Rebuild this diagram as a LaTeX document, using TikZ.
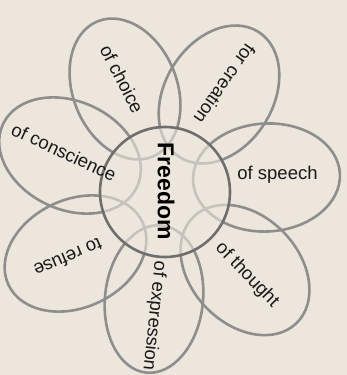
\documentclass[tikz,border=0pt]{standalone}
\usepackage{fontspec}
\setmainfont{Liberation Sans}
\definecolor{bgc}{HTML}{ECE6DC}
\definecolor{petalc}{HTML}{8E8E8E}
\definecolor{ringc}{HTML}{6E6E6E}
\begin{document}
\begin{tikzpicture}[x=1pt,y=-1pt,
  petal/.style={draw=petalc,line width=2.6pt},
  lbl/.style={font=\fontsize{18.5}{20}\selectfont,text=black!90,inner sep=0pt},
  core/.style={circle,minimum size=130pt,inner sep=0pt,draw=ringc,line width=2.6pt,fill=bgc,fill opacity=0.6}]
\useasboundingbox (0,0) rectangle (347,375);
\fill[bgc] (0,0) rectangle (347,375);
\begin{scope}
\clip (0,0) rectangle (347,375);
\coordinate (pS) at (266.5,177.5);
\coordinate (pCr) at (219,94.5);
\coordinate (pCh) at (125,89);
\coordinate (pCo) at (70,155.5);
\coordinate (pR) at (75.5,253.5);
\coordinate (pE) at (154,299);
\coordinate (pT) at (245,270);
\draw[petal,rotate around={3:(pS)}] (pS) ellipse [x radius=73.5pt,y radius=54pt];
\draw[petal,rotate around={58:(pCr)}] (pCr) ellipse [x radius=74pt,y radius=54pt];
\draw[petal,rotate around={112:(pCh)}] (pCh) ellipse [x radius=73pt,y radius=52pt];
\draw[petal,rotate around={155:(pCo)}] (pCo) ellipse [x radius=74pt,y radius=54pt];
\draw[petal,rotate around={205:(pR)}] (pR) ellipse [x radius=74pt,y radius=54pt];
\draw[petal,rotate around={264:(pE)}] (pE) ellipse [x radius=74pt,y radius=49pt];
\draw[petal,rotate around={314:(pT)}] (pT) ellipse [x radius=74pt,y radius=54pt];
\node[core] (center) at (165,192) {};
\end{scope}
\node[font=\fontsize{23}{25}\selectfont\bfseries,rotate=-90,inner sep=0pt] (free) at (166,191.5) {Freedom};
\node[lbl] (speech) at (277.5,175) {of speech};
\node[lbl,rotate=-125] (creation) at (225,84) {for creation};
\node[lbl,rotate=-63] (choice) at (122,79) {of choice};
\node[lbl,rotate=-25] (conscience) at (64,152) {of conscience};
\node[lbl,rotate=203] (refuse) at (68,258) {to refuse};
\node[lbl,rotate=-96] (expression) at (154,316) {of expression};
\node[lbl,rotate=-46] (thought) at (247,275) {of thought};
\end{tikzpicture}
\end{document}
